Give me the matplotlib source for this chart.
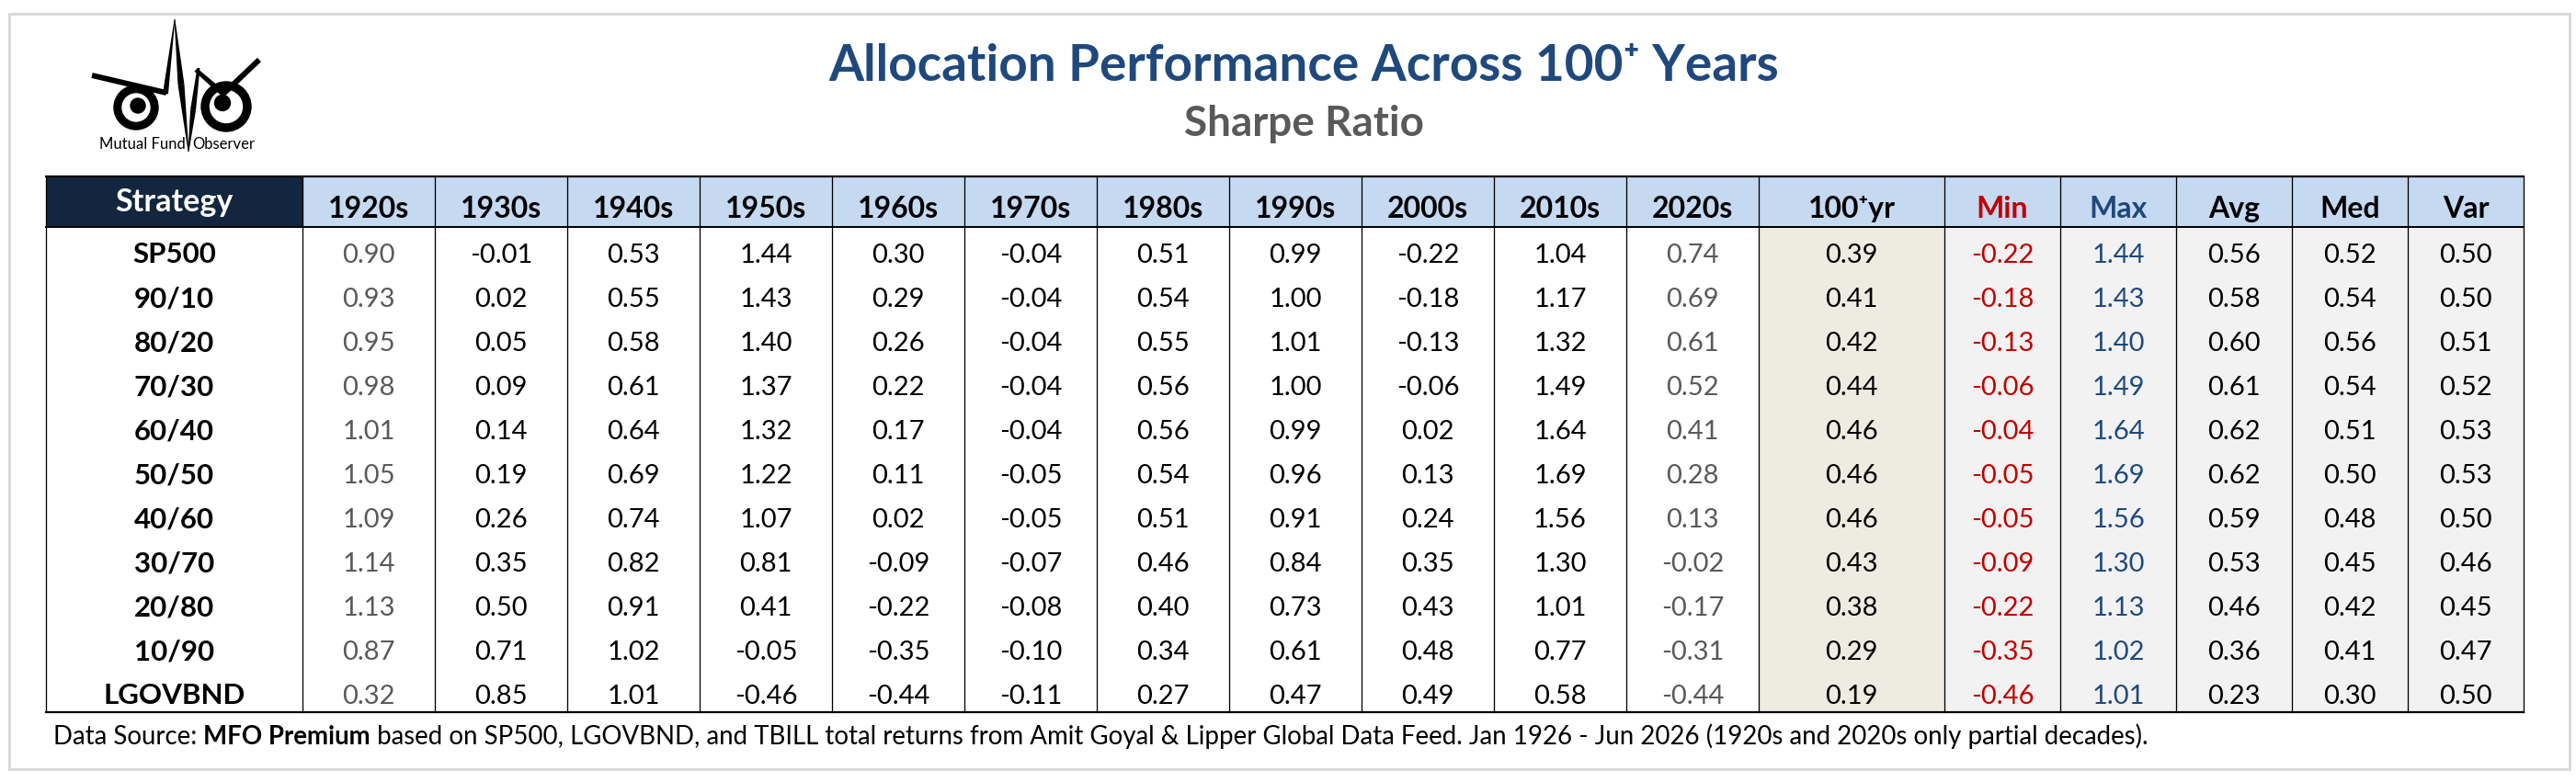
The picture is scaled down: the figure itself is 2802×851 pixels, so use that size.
import matplotlib
matplotlib.use("Agg")
import matplotlib.pyplot as plt
import matplotlib.patches as patch

plt.rcParams['font.family'] = ['Lato', 'DejaVu Sans']

TITLE = "Allocation Performance Across 100\u207a Years"
SUBTITLE = "Sharpe Ratio"

strategies = ["SP500", "90/10", "80/20", "70/30", "60/40", "50/50",
              "40/60", "30/70", "20/80", "10/90", "LGOVBND"]

decades = ["1920s", "1930s", "1940s", "1950s", "1960s", "1970s",
           "1980s", "1990s", "2000s", "2010s", "2020s"]

# sharpe ratio per decade (one list per column, rows follow `strategies`)
s1920 = [0.90, 0.93, 0.95, 0.98, 1.01, 1.05, 1.09, 1.14, 1.13, 0.87, 0.32]
s1930 = [-0.01, 0.02, 0.05, 0.09, 0.14, 0.19, 0.26, 0.35, 0.50, 0.71, 0.85]
s1940 = [0.53, 0.55, 0.58, 0.61, 0.64, 0.69, 0.74, 0.82, 0.91, 1.02, 1.01]
s1950 = [1.44, 1.43, 1.40, 1.37, 1.32, 1.22, 1.07, 0.81, 0.41, -0.05, -0.46]
s1960 = [0.30, 0.29, 0.26, 0.22, 0.17, 0.11, 0.02, -0.09, -0.22, -0.35, -0.44]
s1970 = [-0.04, -0.04, -0.04, -0.04, -0.04, -0.05, -0.05, -0.07, -0.08, -0.10, -0.11]
s1980 = [0.51, 0.54, 0.55, 0.56, 0.56, 0.54, 0.51, 0.46, 0.40, 0.34, 0.27]
s1990 = [0.99, 1.00, 1.01, 1.00, 0.99, 0.96, 0.91, 0.84, 0.73, 0.61, 0.47]
s2000 = [-0.22, -0.18, -0.13, -0.06, 0.02, 0.13, 0.24, 0.35, 0.43, 0.48, 0.49]
s2010 = [1.04, 1.17, 1.32, 1.49, 1.64, 1.69, 1.56, 1.30, 1.01, 0.77, 0.58]
s2020 = [0.74, 0.69, 0.61, 0.52, 0.41, 0.28, 0.13, -0.02, -0.17, -0.31, -0.44]

full_period = [0.39, 0.41, 0.42, 0.44, 0.46, 0.46, 0.46, 0.43, 0.38, 0.29, 0.19]
stat_min = [-0.22, -0.18, -0.13, -0.06, -0.04, -0.05, -0.05, -0.09, -0.22, -0.35, -0.46]
stat_max = [1.44, 1.43, 1.40, 1.49, 1.64, 1.69, 1.56, 1.30, 1.13, 1.02, 1.01]
stat_avg = [0.56, 0.58, 0.60, 0.61, 0.62, 0.62, 0.59, 0.53, 0.46, 0.36, 0.23]
stat_med = [0.52, 0.54, 0.56, 0.54, 0.51, 0.50, 0.48, 0.45, 0.42, 0.41, 0.30]
stat_var = [0.50, 0.50, 0.51, 0.52, 0.53, 0.53, 0.50, 0.46, 0.45, 0.47, 0.50]

stat_labels = ["Min", "Max", "Avg", "Med", "Var"]
FOOTER = ["Data Source: ", "MFO Premium",
          " based on SP500, LGOVBND, and TBILL total returns from Amit Goyal & Lipper Global"
          " Data Feed. Jan 1926 - Jun 2026 (1920s and 2020s only partial decades)."]

# colours
NAVY = "#13263F"
HEAD_BG = "#C5D9F1"
LONG_BG = "#EEECE1"
STAT_BG = "#F2F2F2"
TITLE_C = "#1F497D"
GREY_T = "#595959"
RED_T = "#C00000"
BLUE_T = "#1F497D"

W, H = 2802, 851
fig = plt.figure(figsize=(W / 100, H / 100), dpi=100)
ax = fig.add_axes([0, 0, 1, 1])
ax.set_xlim(0, W)
ax.set_ylim(H, 0)
ax.axis('off')

px = 0.72  # points per pixel

# outer frame
ax.add_patch(patch.Rectangle((10, 15), 2785, 822, fill=False, ec="#D9D9D9", lw=3 * px))

# titles
ax.text(1418, 88, TITLE, ha='center', va='baseline', fontsize=39.5, fontweight='bold', color=TITLE_C)
ax.text(1418, 148, SUBTITLE, ha='center', va='baseline', fontsize=33, fontweight='bold', color=GREY_T)


# logo (owl eyes + pulse line)
def taper(p, q, wp, wq, **kw):
    # filled quad from p to q, width wp at p and wq at q
    dx, dy = q[0] - p[0], q[1] - p[1]
    ln = (dx * dx + dy * dy) ** 0.5
    nx, ny = -dy / ln, dx / ln
    pts = [(p[0] + nx * wp / 2, p[1] + ny * wp / 2), (q[0] + nx * wq / 2, q[1] + ny * wq / 2),
           (q[0] - nx * wq / 2, q[1] - ny * wq / 2), (p[0] - nx * wp / 2, p[1] - ny * wp / 2)]
    ax.add_patch(patch.Polygon(pts, closed=True, color='k', lw=0, **kw))


pulse = [((100, 82), (181, 101), 6, 6), ((180, 102), (190, 21), 6, 0.8),
         ((190, 21), (197, 92), 0.8, 7), ((197, 92), (205, 165), 7, 0.8),
         ((205, 165), (210, 120), 0.8, 6), ((210, 120), (216, 74), 6, 3),
         ((213, 76), (244, 103), 4.5, 6), ((242, 103), (282, 65), 6, 6)]
for p, q, wp, wq in pulse:
    taper(p, q, wp, wq, zorder=6)
for cx, cy, r_out, r_in, pcx, pcy, r_p in [(148, 117, 24, 15, 150, 115, 8),
                                           (246, 116, 27, 17.5, 242, 112, 8.5)]:
    ax.add_patch(patch.Circle((cx, cy), r_out, color='k', zorder=3))
    ax.add_patch(patch.Circle((cx, cy), r_in, color='w', zorder=4))
    ax.add_patch(patch.Circle((pcx, pcy), r_p, color='k', zorder=5))
ax.text(202, 162, "Mutual Fund", ha='right', va='baseline', fontsize=12, color='k')
ax.text(209, 162, "Observer", ha='left', va='baseline', fontsize=12, color='k')

# table layout
x0, y_top, head_h, row_h = 50, 192, 55, 48
widths = [279] + [144] * len(decades) + [202] + [126] * len(stat_labels)
edges = [x0]
for w in widths:
    edges.append(edges[-1] + w)
y_body = y_top + head_h
y_bot = y_body + row_h * len(strategies)

columns = [s1920, s1930, s1940, s1950, s1960, s1970, s1980, s1990, s2000, s2010, s2020,
           full_period, stat_min, stat_max, stat_avg, stat_med, stat_var]
headers = decades + ["100\u207ayr"] + stat_labels

# backgrounds
ax.add_patch(patch.Rectangle((edges[0], y_top), widths[0], head_h, color=NAVY, lw=0))
ax.add_patch(patch.Rectangle((edges[1], y_top), edges[-1] - edges[1], head_h, color=HEAD_BG, lw=0))
n_dec = len(decades)
ax.add_patch(patch.Rectangle((edges[n_dec + 1], y_body), widths[n_dec + 1], y_bot - y_body,
                             color=LONG_BG, lw=0))
ax.add_patch(patch.Rectangle((edges[n_dec + 2], y_body), edges[-1] - edges[n_dec + 2], y_bot - y_body,
                             color=STAT_BG, lw=0))

# grid lines
for x in edges:
    ax.plot([x, x], [y_top, y_bot], color='k', lw=1.3 * px)
ax.plot([edges[0], edges[-1]], [y_top, y_top], color='k', lw=2.2 * px)
ax.plot([edges[0], edges[-1]], [y_body, y_body], color='k', lw=2 * px)
ax.plot([edges[0], edges[-1]], [y_bot, y_bot], color='k', lw=2.2 * px)

# header text
ax.text((edges[0] + edges[1]) / 2, 230, "Strategy", ha='center', va='baseline',
        fontsize=24.5, fontweight='bold', color='w')
for j, h in enumerate(headers):
    c = 'k'
    if h == "Min":
        c = RED_T
    elif h == "Max":
        c = BLUE_T
    ax.text((edges[j + 1] + edges[j + 2]) / 2, 237, h, ha='center', va='baseline',
            fontsize=23, fontweight='bold', color=c)

# body
for i, name in enumerate(strategies):
    yb = y_body + row_h * i + 39
    ax.text((edges[0] + edges[1]) / 2, yb, name, ha='center', va='baseline',
            fontsize=22.5, fontweight='bold', color='k')
    for j, col in enumerate(columns):
        c = 'k'
        if j in (0, n_dec - 1):
            c = GREY_T
        elif headers[j] == "Min":
            c = RED_T
        elif headers[j] == "Max":
            c = BLUE_T
        ax.text((edges[j + 1] + edges[j + 2]) / 2, yb, f"{col[i]:.2f}", ha='center',
                va='baseline', fontsize=21, color=c)

# footer with bold part
r = fig.canvas.get_renderer()
xc = 58
for k, part in enumerate(FOOTER):
    t = ax.text(xc, 810, part, ha='left', va='baseline', fontsize=19.9,
                fontweight='bold' if k == 1 else 'normal', color='k')
    xc = t.get_window_extent(r).x1

fig.savefig("out.png", dpi=100)
